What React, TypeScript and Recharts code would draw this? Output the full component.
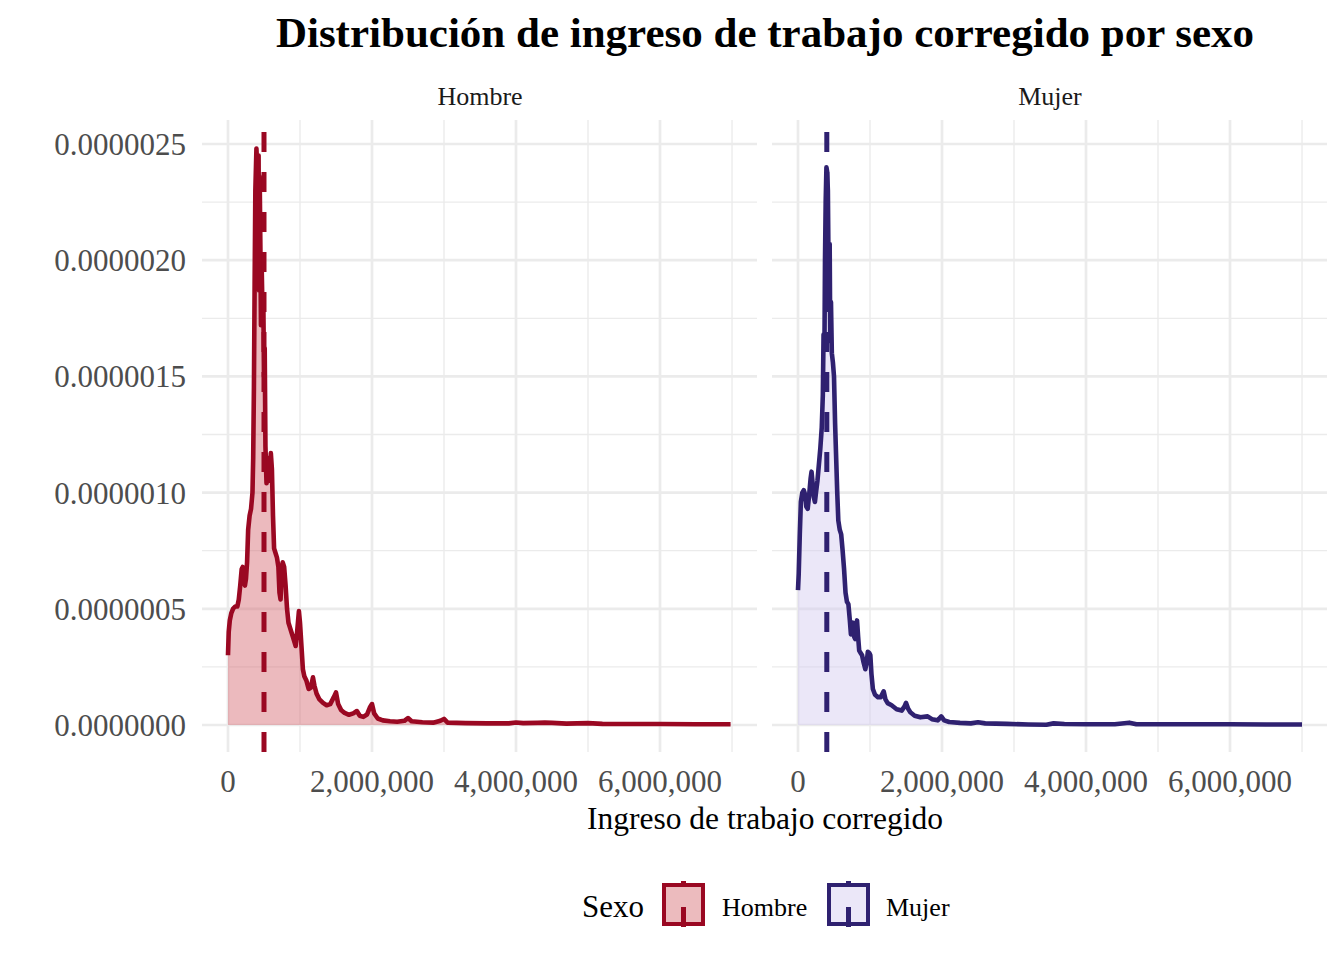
import React from 'react';
import { AreaChart, Area, XAxis, YAxis, CartesianGrid, ReferenceLine } from 'recharts';

// Ingreso de trabajo corregido (pesos) and estimated density (in units of 1e-6)
const hombreIngreso = [
  0, 10000, 25000, 45000, 70000, 100000, 130000, 150000, 170000, 190000, 205000, 220000, 235000, 250000,
  265000, 280000, 300000, 320000, 340000, 350000, 360000, 370000, 380000, 395000, 405000, 415000, 425000,
  432000, 440000, 450000, 458000, 468000, 478000, 490000, 500000, 510000, 520000, 535000, 550000, 565000,
  580000, 595000, 610000, 625000, 640000, 660000, 680000, 700000, 715000, 730000, 745000, 760000, 780000,
  800000, 820000, 840000, 860000, 880000, 900000, 920000, 940000, 960000, 985000, 1000000, 1020000,
  1040000, 1060000, 1090000, 1120000, 1150000, 1180000, 1200000, 1230000, 1270000, 1320000, 1370000,
  1420000, 1470000, 1500000, 1530000, 1570000, 1620000, 1680000, 1740000, 1790000, 1830000, 1880000,
  1930000, 1970000, 2000000, 2030000, 2080000, 2150000, 2250000, 2350000, 2450000, 2500000, 2550000,
  2700000, 2850000, 2950000, 3000000, 3050000, 3300000, 3600000, 3900000, 4000000, 4100000, 4300000,
  4400000, 4500000, 4700000, 5000000, 5200000, 5600000, 6000000, 6500000, 6980000,
];
const hombreDensidad = [
  0.30, 0.40, 0.45, 0.48, 0.50, 0.51, 0.51, 0.54, 0.60, 0.67, 0.68, 0.62, 0.60, 0.63,
  0.70, 0.84, 0.90, 0.93, 1.00, 1.15, 1.45, 1.90, 2.30, 2.48, 2.40, 2.10, 2.45,
  1.87, 2.36, 2.05, 1.72, 1.97, 1.80, 1.85, 1.50, 1.62, 1.20, 1.04, 1.15, 1.05,
  1.08, 1.17, 1.10, 0.90, 0.76, 0.74, 0.72, 0.68, 0.57, 0.54, 0.66, 0.70, 0.68,
  0.60, 0.50, 0.44, 0.42, 0.40, 0.38, 0.36, 0.34, 0.40, 0.49, 0.44, 0.34,
  0.24, 0.21, 0.19, 0.155, 0.16, 0.205, 0.17, 0.135, 0.11, 0.095, 0.085,
  0.09, 0.12, 0.14, 0.09, 0.065, 0.052, 0.044, 0.05, 0.06, 0.04, 0.035,
  0.045, 0.075, 0.09, 0.05, 0.028, 0.02, 0.016, 0.014, 0.018, 0.030, 0.016,
  0.012, 0.010, 0.018, 0.026, 0.010, 0.008, 0.007, 0.007, 0.011, 0.008, 0.009,
  0.010, 0.009, 0.006, 0.008, 0.005, 0.004, 0.004, 0.003, 0.003,
];

const mujerIngreso = [
  0, 10000, 25000, 40000, 60000, 80000, 100000, 115000, 135000, 155000, 175000, 188000, 200000, 220000,
  235000, 250000, 270000, 290000, 310000, 330000, 345000, 355000, 362000, 368000, 375000, 385000, 395000,
  405000, 415000, 425000, 432000, 440000, 448000, 458000, 470000, 485000, 500000, 515000, 530000, 545000,
  560000, 580000, 600000, 620000, 640000, 660000, 680000, 700000, 720000, 735000, 750000, 765000, 780000,
  795000, 810000, 820000, 835000, 850000, 870000, 890000, 910000, 935000, 955000, 970000, 990000, 1005000,
  1020000, 1040000, 1070000, 1110000, 1150000, 1190000, 1215000, 1245000, 1300000, 1370000, 1440000,
  1480000, 1500000, 1530000, 1560000, 1620000, 1700000, 1800000, 1860000, 1940000, 1990000, 2030000,
  2100000, 2250000, 2400000, 2500000, 2600000, 2900000, 3200000, 3450000, 3550000, 3700000, 4000000,
  4400000, 4600000, 4700000, 5200000, 6000000, 6500000, 7000000,
];
const mujerDensidad = [
  0.58, 0.65, 0.82, 0.96, 1.00, 1.01, 0.99, 0.94, 0.93, 0.99, 1.06, 1.09, 1.05, 0.98,
  0.96, 1.00, 1.05, 1.12, 1.19, 1.28, 1.42, 1.68, 1.62, 1.65, 2.00, 2.26, 2.40,
  2.38, 2.30, 1.95, 1.79, 2.07, 1.65, 1.82, 1.60, 1.56, 1.50, 1.30, 1.15, 1.00,
  0.88, 0.84, 0.82, 0.75, 0.67, 0.57, 0.53, 0.52, 0.45, 0.39, 0.43, 0.44, 0.38,
  0.37, 0.43, 0.45, 0.38, 0.32, 0.31, 0.30, 0.27, 0.24, 0.27, 0.315, 0.31, 0.30,
  0.22, 0.155, 0.13, 0.12, 0.12, 0.145, 0.11, 0.094, 0.085, 0.068, 0.062,
  0.08, 0.095, 0.07, 0.055, 0.04, 0.033, 0.037, 0.025, 0.02, 0.037, 0.02,
  0.013, 0.009, 0.007, 0.012, 0.007, 0.005, 0.002, 0.001, 0.007, 0.004, 0.003,
  0.003, 0.010, 0.003, 0.003, 0.003, 0.002, 0.002,
];

const DENSITY_UNIT = 1e-6;
const medianaHombre = 500000;
const medianaMujer = 400000;

const xTicks = [0, 2000000, 4000000, 6000000];
const xMinorTicks = [1000000, 3000000, 5000000, 7000000];
const yTicks = [0, 0.0000005, 0.000001, 0.0000015, 0.000002, 0.0000025];
const yMinorTicks = [0.00000025, 0.00000075, 0.00000125, 0.00000175, 0.00000225];

const xDomain = [-361000, 7347000];
const yDomain = [-0.1162e-6, 2.6033e-6];

const FONT = '"Liberation Serif", "Times New Roman", Times, serif';
const HOMBRE_LINE = '#9a0822';
const HOMBRE_FILL = '#d4676f';
const MUJER_LINE = '#2f2170';
const MUJER_FILL = '#d3caef';

const build = (xs: number[], ys: number[]) => xs.map((x, i) => ({ x, y: ys[i] * DENSITY_UNIT }));
const hombreData = build(hombreIngreso, hombreDensidad);
const mujerData = build(mujerIngreso, mujerDensidad);

const fmtX = (v: number) => (v === 0 ? '0' : String(Math.round(v)).replace(/\B(?=(\d{3})+(?!\d))/g, ','));
const fmtY = (v: number) => v.toFixed(7);

const tickStyle = { fill: '#4d4d4d', fontSize: 31, fontFamily: FONT };

function Panel({ data, line, fill, mediana, showY, left, width, margin }: any) {
  return (
    <div style={{ position: 'absolute', left, top: 0 }}>
      <AreaChart width={width} height={800} data={data} margin={margin}>
        <CartesianGrid
          stroke="#ebebeb"
          strokeWidth={1.35}
          horizontalValues={yMinorTicks}
          verticalValues={xMinorTicks}
        />
        <CartesianGrid
          stroke="#ebebeb"
          strokeWidth={2.7}
          horizontalValues={yTicks}
          verticalValues={xTicks}
        />
        <XAxis
          type="number"
          dataKey="x"
          domain={xDomain}
          allowDataOverflow
          ticks={xTicks}
          tickFormatter={fmtX}
          axisLine={false}
          tickLine={false}
          tickSize={0}
          tickMargin={18}
          height={48}
          tick={tickStyle}
          interval={0}
        />
        <YAxis
          type="number"
          domain={yDomain}
          allowDataOverflow
          ticks={yTicks}
          tickFormatter={fmtY}
          axisLine={false}
          tickLine={false}
          tickSize={0}
          tickMargin={16}
          width={202}
          tick={tickStyle}
          hide={!showY}
          interval={0}
        />
        <Area
          type="linear"
          dataKey="y"
          baseValue={0}
          stroke={line}
          strokeWidth={4.6}
          strokeLinejoin="round"
          fill={fill}
          fillOpacity={0.45}
          isAnimationActive={false}
          dot={false}
          activeDot={false}
        />
        <ReferenceLine
          x={mediana}
          stroke={line}
          strokeWidth={5}
          strokeDasharray="20 20"
        />
      </AreaChart>
    </div>
  );
}

export default function App() {
  return (
    <div style={{ position: 'absolute', left: 0, top: 0, width: 1344, height: 960, background: '#fff', fontFamily: FONT }}>
      <Panel
        data={hombreData}
        line={HOMBRE_LINE}
        fill={HOMBRE_FILL}
        mediana={medianaHombre}
        showY
        left={0}
        width={770}
        margin={{ top: 120, right: 13, bottom: 0, left: 0 }}
      />
      <Panel
        data={mujerData}
        line={MUJER_LINE}
        fill={MUJER_FILL}
        mediana={medianaMujer}
        showY={false}
        left={760}
        width={580}
        margin={{ top: 120, right: 13, bottom: 0, left: 12 }}
      />
      <svg width={1344} height={960} style={{ position: 'absolute', left: 0, top: 0, pointerEvents: 'none' }}>
        <text x={765} y={47} textAnchor="middle" fontFamily={FONT} fontWeight="bold" fontSize={43} fill="#000">
          Distribución de ingreso de trabajo corregido por sexo
        </text>
        <text x={480} y={105} textAnchor="middle" fontFamily={FONT} fontSize={26} fill="#1a1a1a">Hombre</text>
        <text x={1050} y={105} textAnchor="middle" fontFamily={FONT} fontSize={26} fill="#1a1a1a">Mujer</text>
        <text x={765} y={829} textAnchor="middle" fontFamily={FONT} fontSize={31.5} fill="#000">
          Ingreso de trabajo corregido
        </text>
        <text x={582} y={917} fontFamily={FONT} fontSize={31} fill="#000">Sexo</text>
        <rect x={664} y={885} width={39} height={39} fill="#ecbbbe" stroke={HOMBRE_LINE} strokeWidth={4} />
        <line x1={683.5} y1={881} x2={683.5} y2={886} stroke={HOMBRE_LINE} strokeWidth={5} />
        <line x1={683.5} y1={907} x2={683.5} y2={927} stroke={HOMBRE_LINE} strokeWidth={5} />
        <text x={722} y={916} fontFamily={FONT} fontSize={26} fill="#000">Hombre</text>
        <rect x={829} y={885} width={39} height={39} fill="#ebe7f8" stroke={MUJER_LINE} strokeWidth={4} />
        <line x1={848.5} y1={881} x2={848.5} y2={886} stroke={MUJER_LINE} strokeWidth={5} />
        <line x1={848.5} y1={907} x2={848.5} y2={927} stroke={MUJER_LINE} strokeWidth={5} />
        <text x={886} y={916} fontFamily={FONT} fontSize={26} fill="#000">Mujer</text>
      </svg>
    </div>
  );
}
